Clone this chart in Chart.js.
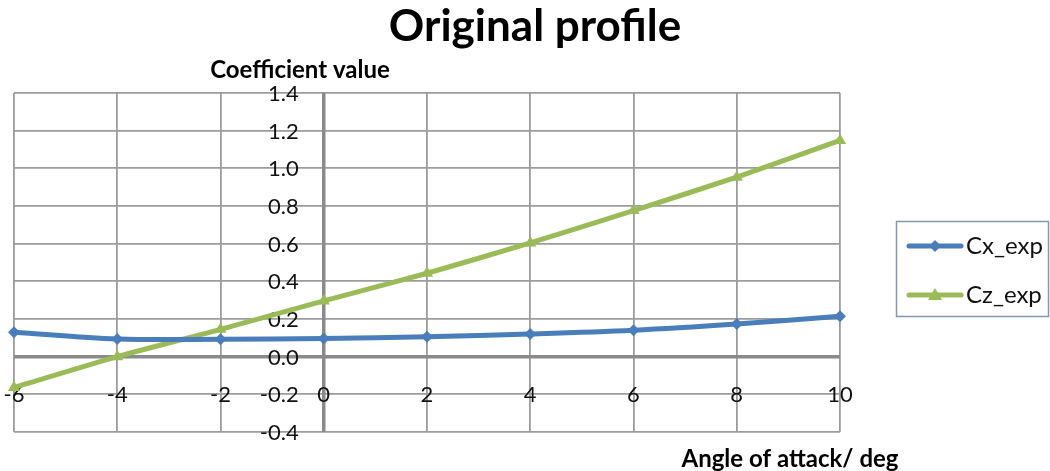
<!DOCTYPE html>
<html>
<head>
<meta charset="utf-8">
<title>Original profile</title>
<script src="https://cdn.jsdelivr.net/npm/chart.js@4.4.1/dist/chart.umd.min.js"></script>
<style>
  html, body { margin: 0; padding: 0; background: #fff; }
  #wrap { width: 1050px; height: 471px; }
</style>
</head>
<body>
<div id="wrap"><canvas id="profileChart" width="1050" height="471"></canvas></div>
<script>
// angle of attack (deg) and measured coefficients
const angles = [-6, -4, -2, 0, 2, 4, 6, 8, 10];
const cxExp = [0.13, 0.094, 0.092, 0.096, 0.106, 0.12, 0.14, 0.173, 0.214];
const czExp = [-0.164, 0.0, 0.145, 0.296, 0.443, 0.604, 0.776, 0.953, 1.148];

const xTicks = [-6, -4, -2, 0, 2, 4, 6, 8, 10];
const yTicks = [-0.4, -0.2, 0.0, 0.2, 0.4, 0.6, 0.8, 1.0, 1.2, 1.4];

const BLUE = "#4a7ebb";
const GREEN = "#9bbb59";
const GRID = "#9c9c9c";

const toPoints = (ys) => angles.map((a, i) => ({ x: a, y: ys[i] }));

// axes through zero, tick labels and texts, drawn the Excel way
const excelLook = {
  id: "excelLook",
  beforeDatasetsDraw(chart) {
    const { ctx, scales } = chart;
    const x = scales.x;
    const y = scales.y;
    const x0 = x.getPixelForValue(0);
    const y0 = y.getPixelForValue(0);

    ctx.save();
    ctx.strokeStyle = "#8a8a8a";
    ctx.lineWidth = 3.5;
    ctx.beginPath();
    ctx.moveTo(x.left, y0);
    ctx.lineTo(x.right, y0);
    ctx.moveTo(x0, y.top);
    ctx.lineTo(x0, y.bottom);
    ctx.stroke();

    ctx.fillStyle = "#111";
    ctx.font = "22px Lato";
    ctx.textAlign = "right";
    ctx.textBaseline = "middle";
    yTicks.forEach((v) => {
      ctx.fillText(v.toFixed(1), x0 - 25, y.getPixelForValue(v) + 1);
    });

    ctx.textAlign = "center";
    xTicks.forEach((v) => {
      ctx.fillText(String(v), x.getPixelForValue(v), y0 + 38);
    });
    ctx.restore();
  },
  afterDraw(chart) {
    const { ctx } = chart;
    ctx.save();
    ctx.fillStyle = "#000";
    ctx.textBaseline = "middle";
    ctx.textAlign = "center";
    ctx.font = "bold 44px Lato";
    ctx.fillText("Original profile", 535, 27);

    ctx.font = "bold 24px Lato";
    ctx.fillText("Coefficient value", 300, 70);
    ctx.fillText("Angle of attack/ deg", 790, 459);

    // legend
    ctx.strokeStyle = "#8497b0";
    ctx.lineWidth = 1.5;
    ctx.strokeRect(896.5, 221.5, 152, 95);

    const items = [
      { label: "Cx_exp", color: BLUE, style: "diamond", y: 246 },
      { label: "Cz_exp", color: GREEN, style: "triangle", y: 295 },
    ];
    items.forEach((it) => {
      ctx.strokeStyle = it.color;
      ctx.fillStyle = it.color;
      ctx.lineWidth = 5;
      ctx.lineCap = "round";
      ctx.beginPath();
      ctx.moveTo(909, it.y);
      ctx.lineTo(961, it.y);
      ctx.stroke();
      ctx.beginPath();
      if (it.style === "diamond") {
        ctx.moveTo(935, it.y - 6);
        ctx.lineTo(941, it.y);
        ctx.lineTo(935, it.y + 6);
        ctx.lineTo(929, it.y);
      } else {
        ctx.moveTo(935, it.y - 7);
        ctx.lineTo(942, it.y + 5);
        ctx.lineTo(928, it.y + 5);
      }
      ctx.closePath();
      ctx.fill();
      ctx.fillStyle = "#111";
      ctx.font = "24px Lato";
      ctx.textAlign = "left";
      ctx.fillText(it.label, 966, it.y);
    });
    ctx.restore();
  },
};

const ctx = document.getElementById("profileChart").getContext("2d");
const profileChart = new Chart(ctx, {
  type: "scatter",
  data: {
    datasets: [
      {
        label: "Cx_exp",
        data: toPoints(cxExp),
        showLine: true,
        clip: false,
        tension: 0.35,
        borderColor: BLUE,
        backgroundColor: BLUE,
        borderWidth: 5,
        pointStyle: "rectRot",
        pointRadius: 6,
        pointBorderWidth: 0,
      },
      {
        label: "Cz_exp",
        data: toPoints(czExp),
        showLine: true,
        clip: false,
        tension: 0.2,
        borderColor: GREEN,
        backgroundColor: GREEN,
        borderWidth: 5,
        pointStyle: "triangle",
        pointRadius: 7,
        pointBorderWidth: 0,
      },
    ],
  },
  options: {
    responsive: false,
    animation: false,
    devicePixelRatio: 1,
    layout: {
      padding: { left: 14, top: 93, right: 210, bottom: 39 },
    },
    plugins: {
      legend: { display: false },
      title: { display: false },
      tooltip: { enabled: false },
    },
    scales: {
      x: {
        type: "linear",
        min: -6,
        max: 10,
        ticks: { stepSize: 2, display: false },
        grid: { color: GRID, lineWidth: 1.8, drawTicks: false },
        border: { display: false },
      },
      y: {
        min: -0.4,
        max: 1.4,
        ticks: { stepSize: 0.2, display: false },
        grid: { color: GRID, lineWidth: 1.8, drawTicks: false },
        border: { display: false },
      },
    },
  },
  plugins: [excelLook],
});
</script>
</body>
</html>
